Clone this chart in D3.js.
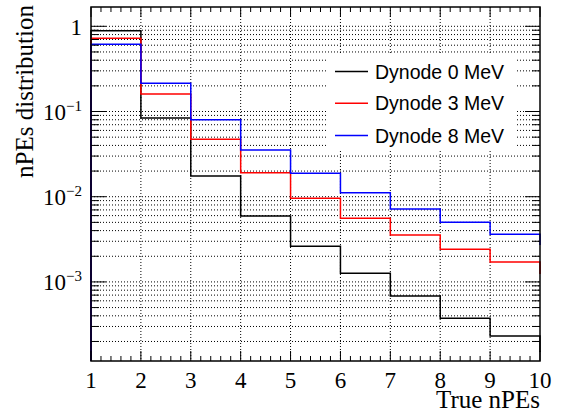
<!DOCTYPE html>
<html>
<head>
<meta charset="utf-8">
<script src="https://cdn.jsdelivr.net/npm/d3@7"></script>
<style>
  html, body { margin: 0; padding: 0; background: #fff; }
  svg { display: block; }
</style>
</head>
<body>
<svg id="chart" width="565" height="414"></svg>
<script>
// ---- data ----
const binEdges = [1, 2, 3, 4, 5, 6, 7, 8, 9, 10];
const seriesNames = ["Dynode 0 MeV", "Dynode 3 MeV", "Dynode 8 MeV"];
const seriesColors = ["#000000", "#ff0000", "#0000ff"];
// bin contents for bins [1,2) ... [9,10), plus the next bin beyond the axis range
const dynode0 = [0.888, 0.084, 0.0175, 0.00593, 0.00262, 0.00126, 0.000683, 0.000374, 0.000232];
const dynode3 = [0.723, 0.160, 0.0472, 0.0191, 0.00957, 0.00557, 0.00355, 0.00241, 0.00171];
const dynode8 = [0.615, 0.214, 0.0800, 0.0353, 0.0188, 0.0111, 0.00718, 0.00501, 0.00362];
const nextBin = [0.00015, 0.00124, 0.00271];
const xTickLabels = ["1", "2", "3", "4", "5", "6", "7", "8", "9", "10"];
const yTickValues = [1, 0.1, 0.01, 0.001];
const yTickExps = [null, "\u22121", "\u22122", "\u22123"];
const yDomain = [1.18e-4, 1.685];

// ---- layout ----
const svg = d3.select("#chart");
const L = 91, R = 540, T = 7, B = 361;
const x = d3.scaleLinear().domain([1, 10]).range([L, R]);
const y = d3.scaleLog().domain(yDomain).range([B, T]);

// grid
const gridG = svg.append("g");
const xGrid = d3.range(2, 10);
gridG.selectAll("line.vx").data(xGrid).enter().append("line")
  .attr("x1", d => x(d)).attr("x2", d => x(d)).attr("y1", T).attr("y2", B)
  .attr("stroke", "#000").attr("stroke-width", 1).attr("stroke-dasharray", "1,2");
const yGridVals = [];
for (let e = -4; e <= 0; e++) for (let m = 1; m <= 9; m++) {
  const v = m * Math.pow(10, e);
  if (v > yDomain[0] && v < yDomain[1]) yGridVals.push(v);
}
gridG.selectAll("line.hy").data(yGridVals).enter().append("line")
  .attr("x1", L).attr("x2", R).attr("y1", d => y(d)).attr("y2", d => y(d))
  .attr("stroke", "#000").attr("stroke-width", 1).attr("stroke-dasharray", "1,2");

// legend box (white, no border)
svg.append("rect").attr("x", 327).attr("y", 55).attr("width", 188).attr("height", 95)
  .attr("fill", "#fff");

// histograms
const allSeries = [dynode0, dynode3, dynode8];
allSeries.forEach((vals, i) => {
  const pts = [[x(binEdges[0]), B]];
  vals.forEach((v, j) => {
    pts.push([x(binEdges[j]), y(v)]);
    pts.push([x(binEdges[j + 1]), y(v)]);
  });
  pts.push([x(binEdges[binEdges.length - 1]), y(nextBin[i])]);
  svg.append("path").attr("d", d3.line()(pts))
    .attr("fill", "none").attr("stroke", seriesColors[i]).attr("stroke-width", 1.5);
});

// frame
svg.append("rect").attr("x", L).attr("y", T).attr("width", R - L).attr("height", B - T)
  .attr("fill", "none").attr("stroke", "#000").attr("stroke-width", 1.5);

// x ticks (bottom & top)
const xMinor = d3.range(1, 10.001, 0.2).map(d => Math.round(d * 10) / 10);
const tickG = svg.append("g").attr("stroke", "#000").attr("stroke-width", 1);
xMinor.forEach(d => {
  const major = Math.abs(d - Math.round(d)) < 1e-6;
  const len = major ? 10 : 5;
  tickG.append("line").attr("x1", x(d)).attr("x2", x(d)).attr("y1", B).attr("y2", B - len);
  tickG.append("line").attr("x1", x(d)).attr("x2", x(d)).attr("y1", T).attr("y2", T + len);
});
// y ticks (left & right)
yGridVals.forEach(v => {
  const major = Math.abs(Math.log10(v) - Math.round(Math.log10(v))) < 1e-6;
  const len = major ? 15 : 8;
  tickG.append("line").attr("x1", L).attr("x2", L + len).attr("y1", y(v)).attr("y2", y(v));
  tickG.append("line").attr("x1", R).attr("x2", R - len).attr("y1", y(v)).attr("y2", y(v));
});

// x tick labels
svg.selectAll("text.xt").data(xTickLabels).enter().append("text")
  .attr("x", (d, i) => x(binEdges[i])).attr("y", 388)
  .attr("text-anchor", "middle")
  .attr("font-family", "Liberation Serif, Times New Roman, serif")
  .attr("font-size", 23).text(d => d);

// y tick labels
yTickValues.forEach((v, i) => {
  const t = svg.append("text")
    .attr("x", 82).attr("y", y(v) + 8.5)
    .attr("text-anchor", "end")
    .attr("font-family", "Liberation Serif, Times New Roman, serif")
    .attr("font-size", 23);
  if (yTickExps[i] === null) {
    t.text("1");
  } else {
    t.append("tspan").text("10");
    t.append("tspan").attr("font-size", 15).attr("dy", -9).text(yTickExps[i]);
  }
});

// axis titles
svg.append("text").attr("x", 540).attr("y", 408).attr("text-anchor", "end")
  .attr("font-family", "Liberation Serif, Times New Roman, serif")
  .attr("font-size", 25).text("True nPEs");
svg.append("text").attr("transform", "translate(33,5) rotate(-90)")
  .attr("text-anchor", "end")
  .attr("font-family", "Liberation Serif, Times New Roman, serif")
  .attr("font-size", 25).text("nPEs distribution");

// legend entries
const legY = [71.5, 103.3, 135.5];
seriesNames.forEach((name, i) => {
  svg.append("line").attr("x1", 335).attr("x2", 368).attr("y1", legY[i]).attr("y2", legY[i])
    .attr("stroke", seriesColors[i]).attr("stroke-width", 1.5);
  svg.append("text").attr("x", 375).attr("y", legY[i] + 7)
    .attr("font-family", "Liberation Sans, Arial, sans-serif")
    .attr("font-size", 19.5).attr("fill", "#000").text(name);
});
</script>
</body>
</html>
